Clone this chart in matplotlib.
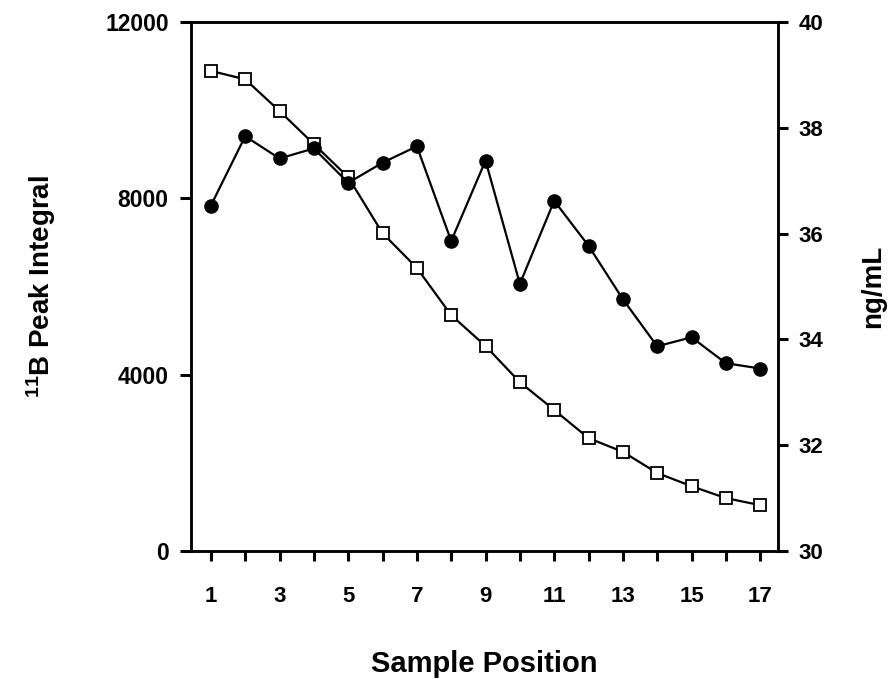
import matplotlib
matplotlib.use('Agg')
from matplotlib import pyplot as plt
import numpy as np

plt.rcParams['font.family'] = ['Liberation Sans', 'DejaVu Sans']
plt.rcParams['font.weight'] = 'bold'
plt.rcParams['mathtext.fontset'] = 'custom'
plt.rcParams['mathtext.bf'] = 'Liberation Sans:bold'
plt.rcParams['mathtext.rm'] = 'Liberation Sans:bold'
plt.rcParams['mathtext.default'] = 'bf'

# sample positions
positions = np.arange(1, 18)

# open squares, left axis (11B peak integral)
peak_integral = [10890, 10700, 9980, 9230, 8480, 7210, 6420, 5350, 4650,
                 3830, 3200, 2560, 2250, 1770, 1470, 1200, 1040]

# filled circles, right axis (ng/mL)
conc = [36.53, 37.84, 37.42, 37.61, 36.96, 37.34, 37.65, 35.86, 37.38,
        35.05, 36.62, 35.77, 34.76, 33.87, 34.04, 33.55, 33.45]

xtick_labels = [str(i) if i % 2 == 1 else '' for i in positions]

fig = plt.figure(figsize=(8.94, 6.79), dpi=100)
ax = fig.add_axes([0.2136, 0.1885, 0.6567, 0.7791])
ax2 = ax.twinx()

ax.plot(positions, peak_integral, color='black', lw=1.6, marker='s',
        markersize=8, markerfacecolor='white', markeredgecolor='black',
        markeredgewidth=1.3, zorder=3)
ax2.plot(positions, conc, color='black', lw=1.6, marker='o',
         markersize=9.5, markerfacecolor='black', markeredgecolor='black')

ax.set_xlim(0.42, 17.52)
ax.set_ylim(0, 12000)
ax2.set_ylim(30, 40)

ax.set_xticks(positions)
ax.set_xticklabels(xtick_labels)
ax.set_yticks([0, 4000, 8000, 12000])
ax2.set_yticks([30, 32, 34, 36, 38, 40])

for a in (ax, ax2):
    for s in a.spines.values():
        s.set_linewidth(1.8)
ax.tick_params(axis='x', direction='out', length=7, width=2.2,
               labelsize=16, pad=18)
ax.tick_params(axis='y', direction='out', length=8, width=2.2,
               labelsize=16.5, pad=8)
ax2.tick_params(axis='y', direction='out', length=7, width=2.2,
                labelsize=16, pad=8)

ax.set_xlabel('Sample Position', fontsize=21, fontweight='bold', labelpad=31)
ax.set_ylabel(r'$^{11}$B Peak Integral', fontsize=20, fontweight='bold',
              labelpad=34)
ax2.set_ylabel('ng/mL', fontsize=20, fontweight='bold', labelpad=26)

plt.savefig('out.png', dpi=100)
